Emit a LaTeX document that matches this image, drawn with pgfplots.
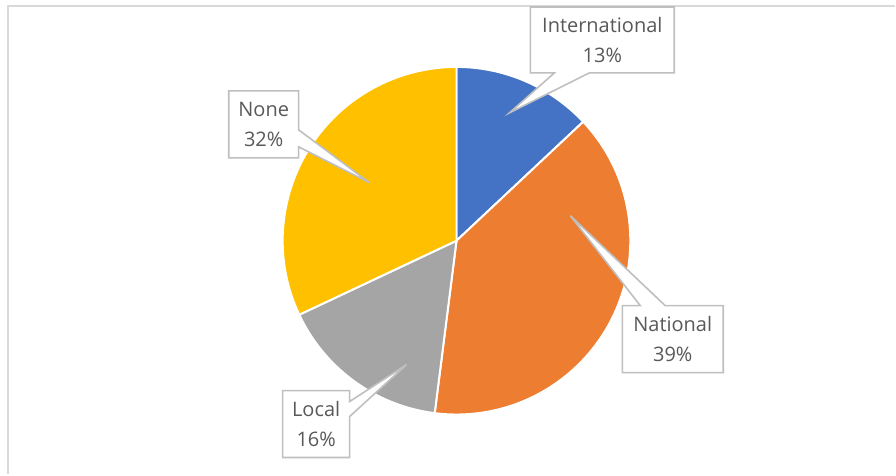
\documentclass[border=0pt]{standalone}
\usepackage{pgfplots}
\usepackage{pgfplotstable}
\pgfplotsset{compat=1.18}
\usepackage{fontspec}
\setmainfont{Open Sans}
\definecolor{slice0}{HTML}{4472C4}
\definecolor{slice1}{HTML}{ED7D31}
\definecolor{slice2}{HTML}{A5A5A5}
\definecolor{slice3}{HTML}{FFC000}
\definecolor{calloutline}{HTML}{BFBFBF}
\definecolor{labeltext}{HTML}{595959}
\definecolor{framegray}{HTML}{D9D9D9}
\pgfplotstableread{
label pct
International 13
National 39
Local 16
None 32
}\piedata
\begin{document}
\begin{tikzpicture}
\begin{axis}[scale only axis, width=448pt, height=237.5pt,
  xmin=0, xmax=896, ymin=0, ymax=475, axis lines=none, clip=false]
\path (axis cs:0,0) rectangle (axis cs:896,475);
% chart frame
\draw[framegray, line width=1pt] (axis cs:8.5,0) -- (axis cs:8.5,468.5) -- (axis cs:896,468.5);
% pie slices
\def\startang{90}
\pgfplotsforeachungrouped \i in {0,...,3}{%
  \pgfplotstablegetelem{\i}{pct}\of\piedata
  \pgfmathsetmacro\endang{\startang - 3.6*\pgfplotsretval}%
  \edef\cmd{\noexpand\fill[fill=slice\i, draw=white, line width=1pt] (axis cs:457,234) -- ++(\startang:87pt) arc[start angle=\startang, end angle=\endang, radius=87pt] -- cycle;}%
  \cmd
  \global\let\startang\endang
}
% callouts
\tikzset{callout/.style={fill=white, draw=calloutline, line width=0.8pt, line join=miter}}
\tikzset{lbl/.style={text=labeltext, align=center, font=\fontsize{10}{15}\selectfont, inner sep=0pt}}
\draw[callout] (axis cs:531,468) -- (axis cs:675,468) -- (axis cs:675,402) -- (axis cs:590,402) -- (axis cs:510,362) -- (axis cs:555,402) -- (axis cs:531,402) -- cycle;
\node[lbl] at (axis cs:603,434.5) {International\\13\%};
\draw[callout] (axis cs:623,169) -- (axis cs:641,169) -- (axis cs:571,259) -- (axis cs:666,169) -- (axis cs:724,169) -- (axis cs:724,102) -- (axis cs:623,102) -- cycle;
\node[lbl] at (axis cs:673.5,135.5) {National\\39\%};
\draw[callout] (axis cs:283,84) -- (axis cs:350,84) -- (axis cs:350,73) -- (axis cs:407,110) -- (axis cs:350,58) -- (axis cs:350,17) -- (axis cs:283,17) -- cycle;
\node[lbl] at (axis cs:316.5,50.5) {Local\\16\%};
\draw[callout] (axis cs:229,384) -- (axis cs:299,384) -- (axis cs:299,345) -- (axis cs:370,292) -- (axis cs:299,328) -- (axis cs:299,317) -- (axis cs:229,317) -- cycle;
\node[lbl] at (axis cs:264,350.5) {None\\32\%};
\end{axis}
\end{tikzpicture}
\end{document}
